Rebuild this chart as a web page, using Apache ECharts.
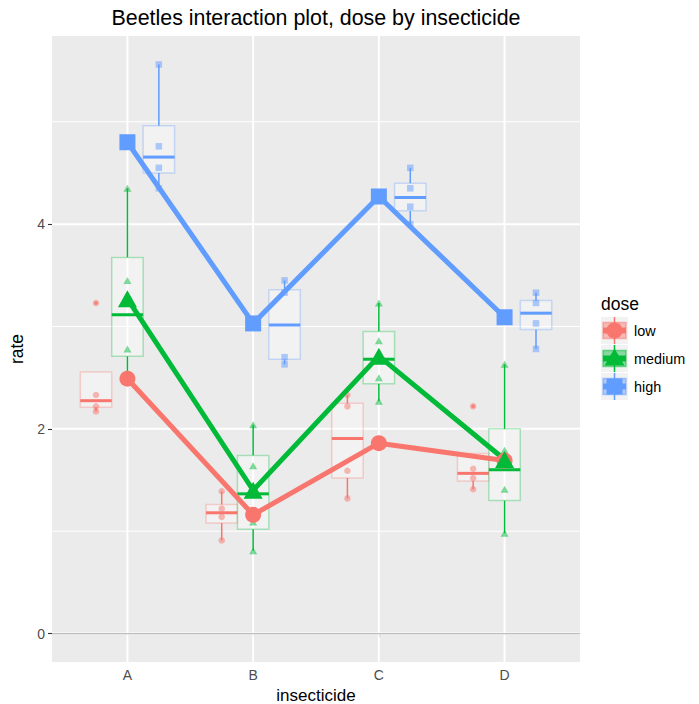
<!DOCTYPE html>
<html><head><meta charset="utf-8">
<script src="https://cdn.jsdelivr.net/npm/echarts@6/dist/echarts.min.js"></script>
<style>html,body{margin:0;padding:0;background:#fff}#c{width:699px;height:704px}</style>
</head><body><div id="c"></div>
<script>
// ---------- data ----------
const categories = ['A', 'B', 'C', 'D'];
const doses = ['low', 'medium', 'high'];
const doseColors = ['#F8766D', '#00BA38', '#619CFF'];

// raw observations (rate) per insecticide
const lowPts    = [[3.23, 2.22, 2.17, 2.33], [1.22, 0.91, 1.14, 1.39], [2.33, 2.22, 1.59, 1.32], [2.22, 1.41, 1.52, 1.61]];
const mediumPts = [[2.78, 3.45, 2.50, 4.35], [1.09, 1.64, 2.04, 0.81], [2.27, 2.86, 3.23, 2.50], [1.79, 0.98, 1.41, 2.63]];
const highPts   = [[4.55, 4.76, 5.56, 4.35], [3.33, 2.70, 2.63, 3.45], [4.35, 4.00, 4.17, 4.55], [3.33, 2.78, 3.23, 3.03]];

// box stats per insecticide: [lower whisker, Q1, median, Q3, upper whisker]
const lowBox    = [[2.17, 2.21, 2.275, 2.555, 2.555], [0.91, 1.08, 1.18, 1.26, 1.39], [1.32, 1.52, 1.905, 2.25, 2.33], [1.41, 1.49, 1.565, 1.76, 1.76]];
const mediumBox = [[2.50, 2.71, 3.115, 3.675, 4.35], [0.81, 1.02, 1.365, 1.74, 2.04], [2.27, 2.44, 2.68, 2.95, 3.23], [0.98, 1.30, 1.60, 2.00, 2.63]];
const highBox   = [[4.35, 4.50, 4.655, 4.96, 5.56], [2.63, 2.68, 3.015, 3.36, 3.45], [4.00, 4.13, 4.26, 4.40, 4.55], [2.78, 2.97, 3.13, 3.255, 3.33]];

// outliers: [category index, rate]
const lowOutliers = [[0, 3.23], [3, 2.22]];
const mediumOutliers = [];
const highOutliers = [];

// means per insecticide
const lowMean    = [2.49, 1.16, 1.86, 1.69];
const mediumMean = [3.27, 1.40, 2.71, 1.70];
const highMean   = [4.80, 3.03, 4.27, 3.09];

const yTickValues = [0, 2, 4];
const yMinorValues = [1, 3, 5];

// ---------- layout / style ----------
const FONT = '"Liberation Sans", Arial, sans-serif';
const offsets = [-0.25, 0, 0.25];
const boxWidth = 0.25;
const ptsAll = [lowPts, mediumPts, highPts];
const boxAll = [lowBox, mediumBox, highBox];
const outAll = [lowOutliers, mediumOutliers, highOutliers];
const meanAll = [lowMean, mediumMean, highMean];
const smallSymbols = ['circle', 'triangle', 'rect'];
const smallSizes = [6.5, [8, 7], 6.5];
const bigSymbols = ['circle', 'triangle', 'rect'];
const bigSizes = [16, [19, 17], 16];

function rgba(hex, a) {
  const n = parseInt(hex.slice(1), 16);
  return 'rgba(' + ((n >> 16) & 255) + ',' + ((n >> 8) & 255) + ',' + (n & 255) + ',' + a + ')';
}

const series = [];

// grid lines
function gridLineSeries(items, vertical, width, color, z) {
  return {
    type: 'custom', silent: true, z: z, animation: false,
    data: items.map(v => vertical ? [v, 0] : [1, v]),
    encode: { x: 0, y: 1 },
    renderItem: function (params, api) {
      const cs = params.coordSys;
      if (vertical) {
        const x = api.coord([api.value(0), 0])[0];
        return { type: 'line', shape: { x1: x, y1: cs.y, x2: x, y2: cs.y + cs.height }, style: { stroke: color, lineWidth: width } };
      }
      const y = api.coord([1, api.value(1)])[1];
      return { type: 'line', shape: { x1: cs.x, y1: y, x2: cs.x + cs.width, y2: y }, style: { stroke: color, lineWidth: width } };
    }
  };
}
series.push(gridLineSeries(yMinorValues, false, 1, '#ffffff', 1));
series.push(gridLineSeries(yTickValues, false, 2, '#ffffff', 1));
series.push(gridLineSeries(categories.map((c, i) => i + 1), true, 2, '#ffffff', 1));
series.push(gridLineSeries([0], false, 1.2, '#bdbdbd', 2));

// boxplots
doses.forEach((d, k) => {
  const c = doseColors[k];
  series.push({
    type: 'custom', name: d + ' box', z: 3, silent: true, animation: false,
    data: boxAll[k].map((b, i) => [i + 1].concat(b)),
    encode: { x: 0, y: [1, 2, 3, 4, 5] },
    renderItem: function (params, api) {
      const x = api.value(0) + offsets[k];
      const lo = api.coord([x, api.value(1)]);
      const q1 = api.coord([x, api.value(2)]);
      const md = api.coord([x, api.value(3)]);
      const q3 = api.coord([x, api.value(4)]);
      const hi = api.coord([x, api.value(5)]);
      const xl = api.coord([x - boxWidth / 2, 0])[0];
      const xr = api.coord([x + boxWidth / 2, 0])[0];
      const ch = [];
      if (hi[1] < q3[1] - 0.5) ch.push({ type: 'line', shape: { x1: hi[0], y1: hi[1], x2: q3[0], y2: q3[1] }, style: { stroke: c, lineWidth: 1.5 } });
      if (lo[1] > q1[1] + 0.5) ch.push({ type: 'line', shape: { x1: lo[0], y1: lo[1], x2: q1[0], y2: q1[1] }, style: { stroke: c, lineWidth: 1.5 } });
      ch.push({ type: 'rect', shape: { x: xl, y: q3[1], width: xr - xl, height: q1[1] - q3[1] }, style: { fill: 'rgba(255,255,255,0.35)', stroke: rgba(c, 0.3), lineWidth: 1.5 } });
      ch.push({ type: 'line', shape: { x1: xl, y1: md[1], x2: xr, y2: md[1] }, style: { stroke: c, lineWidth: 3 } });
      return { type: 'group', children: ch };
    }
  });
});

// raw points
doses.forEach((d, k) => {
  const data = [];
  ptsAll[k].forEach((arr, i) => arr.forEach(v => data.push([i + 1 + offsets[k], v])));
  series.push({
    type: 'scatter', name: d + ' points', z: 4, silent: true, animation: false,
    symbol: smallSymbols[k], symbolSize: smallSizes[k],
    itemStyle: { color: doseColors[k], opacity: 0.5 },
    data: data
  });
});

// outliers
doses.forEach((d, k) => {
  series.push({
    type: 'scatter', name: d + ' outliers', z: 4, silent: true, animation: false,
    symbol: smallSymbols[k], symbolSize: 3.5,
    itemStyle: { color: doseColors[k], opacity: 0.8 },
    data: outAll[k].map(o => [o[0] + 1 + offsets[k], o[1]])
  });
});

// mean lines
doses.forEach((d, k) => {
  series.push({
    type: 'line', name: d, z: 5, silent: true, animation: false,
    symbol: bigSymbols[k], symbolSize: bigSizes[k], showSymbol: true,
    lineStyle: { color: doseColors[k], width: 5 },
    itemStyle: { color: doseColors[k], opacity: 1 },
    data: meanAll[k].map((m, i) => [i + 1, m])
  });
});

// ---------- legend (drawn as graphics) ----------
const legendX = 601, legendTop = 317, keySize = 27, keyStep = 28;
const graphics = [];
graphics.push({ type: 'text', x: 316, y: 18, style: { text: 'Beetles interaction plot, dose by insecticide', font: '21.4px ' + FONT, fill: '#000', textAlign: 'center', textVerticalAlign: 'middle' } });
graphics.push({ type: 'text', x: legendX, y: 304, style: { text: 'dose', font: '17.5px ' + FONT, fill: '#000', textAlign: 'left', textVerticalAlign: 'middle' } });
doses.forEach((d, k) => {
  const c = doseColors[k];
  const top = legendTop + k * keyStep;
  const cx = legendX + keySize / 2, cy = top + keySize / 2;
  graphics.push({ type: 'rect', shape: { x: legendX, y: top, width: keySize, height: keySize }, style: { fill: '#f2f2f2' } });
  graphics.push({ type: 'line', shape: { x1: cx, y1: top, x2: cx, y2: top + keySize }, style: { stroke: c, lineWidth: 1.5 } });
  graphics.push({ type: 'rect', shape: { x: cx - 11.5, y: cy - 8, width: 23, height: 16 }, style: { fill: rgba(c, 0.45), stroke: rgba(c, 0.5), lineWidth: 1.5 } });
  graphics.push({ type: 'line', shape: { x1: cx - 11.5, y1: cy, x2: cx + 11.5, y2: cy }, style: { stroke: c, lineWidth: 6 } });
  if (k === 0) graphics.push({ type: 'circle', shape: { cx: cx, cy: cy, r: 8 }, style: { fill: c } });
  if (k === 1) graphics.push({ type: 'polygon', shape: { points: [[cx, cy - 10], [cx - 10, cy + 7], [cx + 10, cy + 7]] }, style: { fill: c } });
  if (k === 2) graphics.push({ type: 'rect', shape: { x: cx - 8, y: cy - 8, width: 16, height: 16 }, style: { fill: c } });
  graphics.push({ type: 'text', x: legendX + keySize + 6, y: cy, style: { text: d, font: '14.4px ' + FONT, fill: '#000', textAlign: 'left', textVerticalAlign: 'middle' } });
});

const chart = echarts.init(document.getElementById('c'), null, { renderer: 'svg' });
chart.setOption({
  animation: false,
  backgroundColor: '#ffffff',
  textStyle: { fontFamily: FONT },
  grid: { left: 52, top: 36, width: 528, height: 626, show: true, backgroundColor: '#ebebeb', borderWidth: 0, containLabel: false, outerBoundsMode: 'none' },
  xAxis: {
    type: 'value', min: 0.4, max: 4.6,
    name: 'insecticide', nameLocation: 'middle', nameGap: 21,
    nameTextStyle: { fontSize: 17, color: '#000', fontFamily: FONT },
    axisLine: { show: false },
    axisTick: { show: true, customValues: categories.map((c, i) => i + 1), length: 4, lineStyle: { color: '#333', width: 1.1 } },
    axisLabel: { customValues: categories.map((c, i) => i + 1), formatter: v => categories[Math.round(v) - 1], fontSize: 14, color: '#4d4d4d', margin: 6, fontFamily: FONT },
    splitLine: { show: false }
  },
  yAxis: {
    type: 'value', min: -0.278, max: 5.838,
    name: 'rate', nameLocation: 'middle', nameGap: 22,
    nameTextStyle: { fontSize: 17.5, color: '#000', fontFamily: FONT },
    axisLine: { show: false },
    axisTick: { show: true, customValues: yTickValues, length: 4, lineStyle: { color: '#333', width: 1.1 } },
    axisLabel: { customValues: yTickValues, fontSize: 14, color: '#4d4d4d', margin: 7, fontFamily: FONT },
    splitLine: { show: false }
  },
  series: series,
  graphic: graphics
});
</script>
</body></html>
